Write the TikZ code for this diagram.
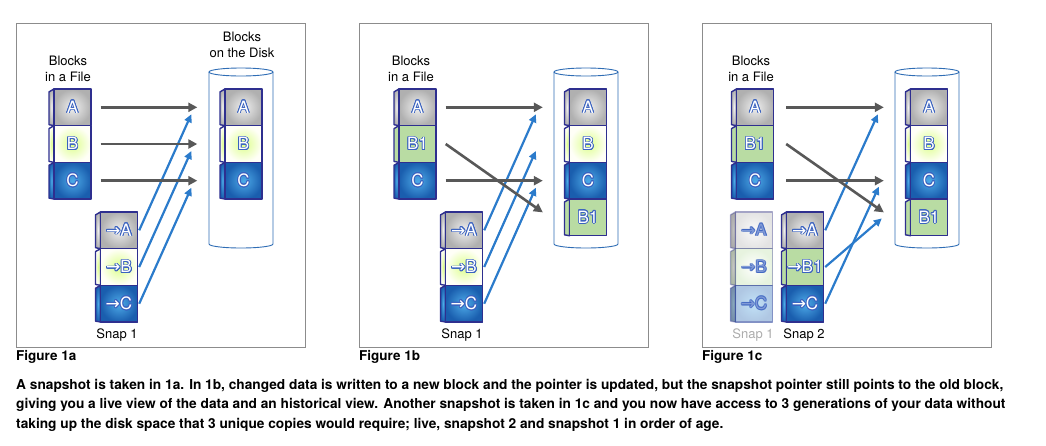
\documentclass[tikz,border=0pt]{standalone}
\usepackage{fontspec}
\setmainfont{TeX Gyre Heros}
\newfontfamily\arrowfont{DejaVu Sans}
\usepackage{contour}
\contourlength{0.8pt}
\usetikzlibrary{arrows.meta}
\definecolor{navy}{HTML}{2E2F8F}
\definecolor{ltrblue}{HTML}{3A62C0}
\definecolor{tubeblue}{HTML}{2F6DB5}
\definecolor{snapblue}{HTML}{2B7BCB}
\definecolor{livegray}{HTML}{585858}
\definecolor{framegray}{HTML}{8C8C8C}
\definecolor{bonegreen}{HTML}{B9DCA3}
\definecolor{cinner}{HTML}{4DAAE8}
\definecolor{couter}{HTML}{1A5EAE}
\newcommand{\ptr}[1]{{\arrowfont →}#1}
\newcommand{\blk}[5] % name, x centre, y centre, look, label
{
	% side face
	\filldraw[blkline, #4] (#2-23.5,#3-15.4) -- (#2-18.5,#3-18.35) -- (#2-18.5,#3+18.35) -- (#2-23.5,#3+17.4) -- cycle;
	% front face
	\node[blkface, #4] (#1) at (#2,#3) {\contour{ltrblue}{#5}};
}
\newcommand{\disk}[1] % x centre
{
	\filldraw[tube] (#1-32,72) -- (#1-32,244) arc[start angle=180, end angle=0, x radius=32, y radius=4] -- (#1+32,72);
	\filldraw[tube] (#1,72) ellipse[x radius=32, y radius=4];
}
\tikzset{
	blkline/.style={draw=navy, line width=1.4pt, line join=round},
	blkface/.style={blkline, minimum width=37pt, minimum height=36.7pt, inner sep=0pt, text=white, font=\fontsize{17}{17}\selectfont},
	lookA/.style={inner color=gray!12, outer color=gray!62},
	lookB/.style={inner color=green!30!yellow!45, outer color=yellow!3},
	lookC/.style={inner color=cinner, outer color=couter},
	lookBone/.style={fill=bonegreen},
	lookBold/.style={inner color=white, outer color=bonegreen},
	tube/.style={draw=tubeblue, fill=white, line width=0.9pt},
	panel/.style={draw=framegray, line width=0.9pt},
	livearrow/.style={draw=livegray, line width=2.6pt, -{Triangle[length=9pt, width=9pt]}},
	snaparrow/.style={draw=snapblue, line width=2.2pt, -{Triangle[length=8pt, width=7.5pt]}},
	hdr/.style={align=center, inner sep=0pt, font=\fontsize{13}{16}\selectfont},
	figlbl/.style={anchor=west, inner sep=0pt, font=\bfseries\fontsize{13.5}{15}\selectfont},
	note/.style={anchor=north west, align=left, inner sep=0pt, font=\bfseries\fontsize{13.7}{19.5}\selectfont}
}
\begin{document}
\begin{tikzpicture}[x=1pt, y=-1pt]
	\useasboundingbox (0,0) rectangle (1046,445);
	% Figure 1a
	\draw[panel] (16,23) rectangle (305,347);
	\node[hdr] (fileA) at (68,69) {Blocks\\in a File};
	\node[hdr] (diskA) at (242,45) {Blocks\\on the Disk};
	\disk{241}
	\blk{aFA}{72.5}{107.3}{lookA}{A}
	\blk{aFB}{72.5}{144}{lookB}{B}
	\blk{aFC}{72.5}{180.7}{lookC}{C}
	\blk{aDA}{243.5}{107.3}{lookA}{A}
	\blk{aDB}{243.5}{144}{lookB}{B}
	\blk{aDC}{243.5}{180.7}{lookC}{C}
	\blk{aSA}{119}{230.3}{lookA}{\ptr A}
	\blk{aSB}{119}{267}{lookB}{\ptr B}
	\blk{aSC}{119}{303.7}{lookC}{\ptr C}
	\node[hdr] (snapA) at (117,335) {Snap 1};
	\draw[snaparrow] ([xshift=1]aSA.east) -- ([shift={(-33,7)}]aDA.west);
	\draw[snaparrow] ([xshift=1]aSB.east) -- ([shift={(-33,7)}]aDB.west);
	\draw[snaparrow] ([xshift=1]aSC.east) -- ([shift={(-33,7)}]aDC.west);
	\draw[livearrow] ([xshift=9]aFA.east) -- ([xshift=-27]aDA.west);
	\draw[livearrow] ([xshift=9]aFB.east) -- ([xshift=-27]aDB.west);
	\draw[livearrow] ([xshift=9]aFC.east) -- ([xshift=-27]aDC.west);
	\node[figlbl] (figA) at (16,357) {Figure 1a};

	% Figure 1b
	\draw[panel] (359,23) rectangle (648,347);
	\node[hdr] (fileB) at (411,69) {Blocks\\in a File};
	\disk{586}
	\blk{bFA}{417.5}{107.3}{lookA}{A}
	\blk{bFB}{417.5}{144}{lookBone}{B1}
	\blk{bFC}{417.5}{180.7}{lookC}{C}
	\blk{bDA}{588}{107.3}{lookA}{A}
	\blk{bDB}{588}{144}{lookB}{B}
	\blk{bDC}{588}{180.7}{lookC}{C}
	\blk{bDD}{588}{217.4}{lookBone}{B1}
	\blk{bSA}{464}{230.3}{lookA}{\ptr A}
	\blk{bSB}{464}{267}{lookB}{\ptr B}
	\blk{bSC}{464}{303.7}{lookC}{\ptr C}
	\node[hdr] (snapB) at (462,335) {Snap 1};
	\draw[snaparrow] ([xshift=1]bSA.east) -- ([shift={(-33,7)}]bDA.west);
	\draw[snaparrow] ([xshift=1]bSB.east) -- ([shift={(-33,7)}]bDB.west);
	\draw[snaparrow] ([xshift=1]bSC.east) -- ([shift={(-33,7)}]bDC.west);
	\draw[livearrow] ([xshift=9]bFA.east) -- ([xshift=-26]bDA.west);
	\draw[livearrow] ([xshift=9]bFB.east) -- ([shift={(-26,-5)}]bDD.west);
	\draw[livearrow] ([xshift=9]bFC.east) -- ([xshift=-26]bDC.west);
	\node[figlbl] (figB) at (359,357) {Figure 1b};

	% Figure 1c
	\draw[panel] (702,23) rectangle (991,347);
	\node[hdr] (fileC) at (751,69) {Blocks\\in a File};
	\disk{927}
	\blk{cFA}{755}{107.3}{lookA}{A}
	\blk{cFB}{755}{144}{lookBone}{B1}
	\blk{cFC}{755}{180.7}{lookC}{C}
	\blk{cDA}{929}{107.3}{lookA}{A}
	\blk{cDB}{929}{144}{lookB}{B}
	\blk{cDC}{929}{180.7}{lookC}{C}
	\blk{cDD}{929}{217.4}{lookBone}{B1}
	\begin{scope}[opacity=0.35]
		\blk{cOA}{754}{230.3}{lookA}{\ptr A}
		\blk{cOB}{754}{267}{lookBold}{\ptr B}
		\blk{cOC}{754}{303.7}{lookC}{\ptr C}
	\end{scope}
	\blk{cSA}{805}{230.3}{lookA}{\ptr A}
	\blk{cSB}{805}{267}{lookBone}{\ptr{B1}}
	\blk{cSC}{805}{303.7}{lookC}{\ptr C}
	\node[hdr, text=gray!65] (snapOld) at (753,335) {Snap 1};
	\node[hdr] (snapNew) at (804,335) {Snap 2};
	\draw[snaparrow] ([xshift=1]cSA.east) -- ([shift={(-32,7)}]cDA.west);
	\draw[snaparrow] ([xshift=1]cSB.east) -- ([shift={(-28,1)}]cDD.west);
	\draw[snaparrow] ([xshift=1]cSC.east) -- ([shift={(-31,6)}]cDC.west);
	\draw[livearrow] ([xshift=12]cFA.east) -- ([xshift=-26]cDA.west);
	\draw[livearrow] ([xshift=12]cFB.east) -- ([shift={(-26,-5)}]cDD.west);
	\draw[livearrow] ([xshift=12]cFC.east) -- ([xshift=-26]cDC.west);
	\node[figlbl] (figC) at (702,357) {Figure 1c};

	\node[note] (caption) at (16,379) {A snapshot is taken in 1a. In 1b, changed data is written to a new block and the pointer is updated, but the snapshot pointer still points to the old block,\\giving you a live view of the data and an historical view. Another snapshot is taken in 1c and you now have access to 3 generations of your data without\\taking up the disk space that 3 unique copies would require; live, snapshot 2 and snapshot 1 in order of age.};
\end{tikzpicture}
\end{document}
